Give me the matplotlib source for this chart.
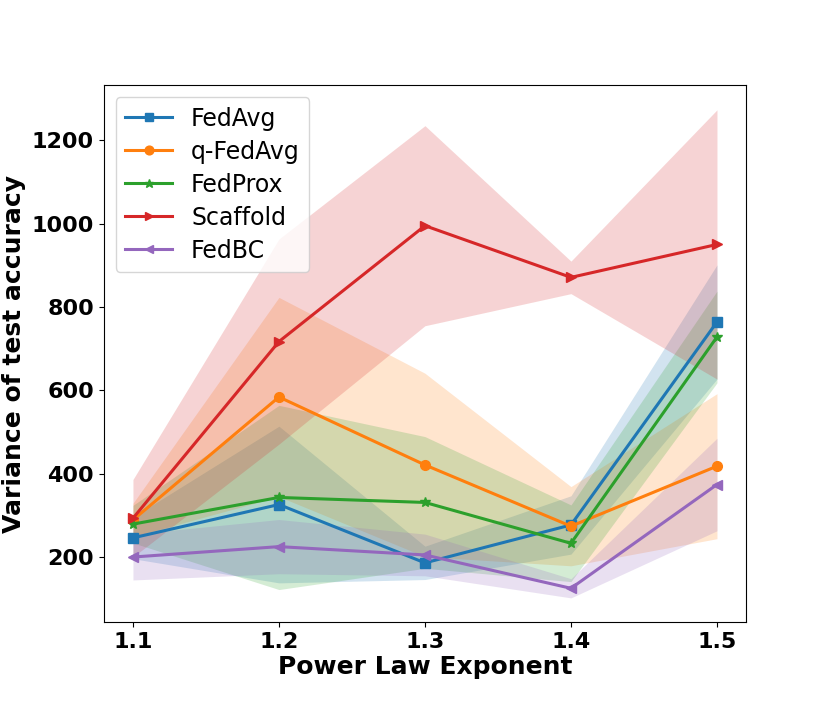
import numpy as np
import matplotlib
matplotlib.use('Agg')
from matplotlib import pyplot as plt

exponents = [1.1, 1.2, 1.3, 1.4, 1.5]
methods = ['FedAvg', 'q-FedAvg', 'FedProx', 'Scaffold', 'FedBC']
markers = ['s', 'o', '*', '>', '<']

# mean variance per method
fedavg_mean = [246, 326, 186, 277, 764]
qfedavg_mean = [289, 584, 421, 274, 418]
fedprox_mean = [279, 343, 331, 233, 728]
scaffold_mean = [293, 717, 995, 871, 950]
fedbc_mean = [200, 225, 205, 125, 374]

# std (half width of the shaded band)
fedavg_std = [50, 188, 40, 70, 137]
qfedavg_std = [40, 239, 220, 95, 174]
fedprox_std = [45, 221, 158, 92, 110]
scaffold_std = [93, 246, 240, 39, 323]
fedbc_std = [55, 65, 50, 23, 111]

means = [fedavg_mean, qfedavg_mean, fedprox_mean, scaffold_mean, fedbc_mean]
stds = [fedavg_std, qfedavg_std, fedprox_std, scaffold_std, fedbc_std]

fig = plt.figure(figsize=(8.3, 7.12), dpi=100)
ax = fig.add_axes([0.125, 0.126, 0.774, 0.754])

for name, m, mu, sd in zip(methods, markers, means, stds):
	mu = np.array(mu, dtype=float)
	sd = np.array(sd, dtype=float)
	line, = ax.plot(exponents, mu, marker=m, markersize=7, linewidth=2.2, label=name)
	ax.fill_between(exponents, mu - sd, mu + sd, color=line.get_color(), alpha=0.2, linewidth=0)

ax.set_xticks(exponents)
ax.set_xticklabels(['1.1', '1.2', '1.3', '1.4', '1.5'])
ax.set_yticks([200, 400, 600, 800, 1000, 1200])
for lab in ax.get_xticklabels() + ax.get_yticklabels():
	lab.set_fontsize(16)
	lab.set_fontweight('bold')
ax.set_xlabel('Power Law Exponent', fontsize=18, fontweight='bold', labelpad=2)
ax.set_ylabel('Variance of test accuracy', fontsize=18, fontweight='bold')
ax.legend(loc='upper left', fontsize=17, markerscale=0.9, labelspacing=0.38)

fig.savefig('out.png', dpi=100)
